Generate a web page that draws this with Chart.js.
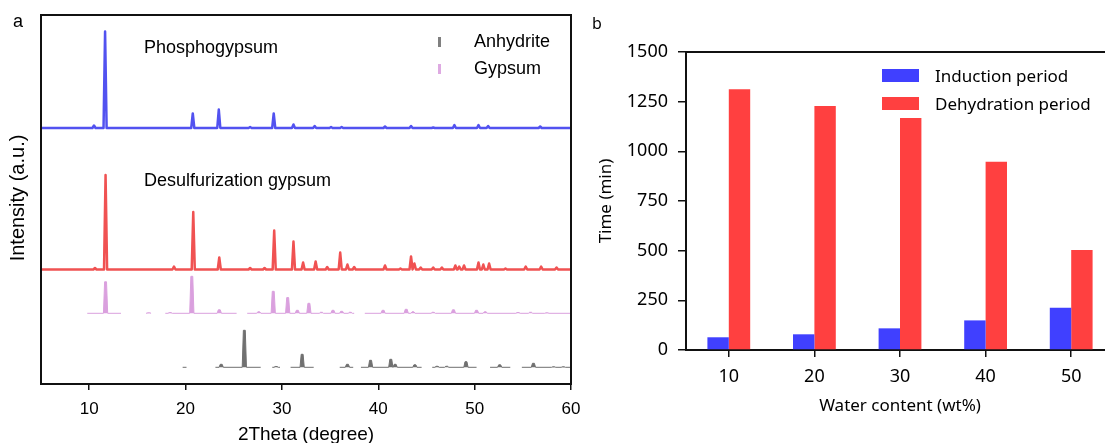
<!DOCTYPE html>
<html>
<head>
<meta charset="utf-8">
<script src="https://cdn.jsdelivr.net/npm/chart.js@4.4.0/dist/chart.umd.min.js"></script>
<style>
  html, body { margin: 0; padding: 0; background: #fff; overflow: hidden; width: 1105px; height: 443px; }
  #xrd { position: absolute; left: 0; top: 0; }
  #bars { position: absolute; left: 580px; top: 0; }
</style>
</head>
<body>
<canvas id="xrd" width="580" height="443"></canvas>
<canvas id="bars" width="540" height="443"></canvas>
<script>
// ---------- (a) XRD patterns: peak positions (2θ, degree) and intensities (a.u.) ----------
const xTicksA = [10, 20, 30, 40, 50, 60];

const phosphoPos = [10.5, 11.65, 20.75, 23.45, 26.7, 29.15, 31.2, 33.4, 35.1, 36.2, 40.7, 43.4, 45.7, 47.9, 50.4, 51.4, 56.8];
const phosphoInt = [2.5, 96.5, 14.5, 18.5, 1, 14.5, 3.5, 2, 1, 1, 1.5, 2, 0.5, 3, 3, 2, 1.5];

const desulfPos = [10.6, 11.7, 18.8, 20.8, 23.5, 26.7, 28.2, 29.2, 31.2, 32.2, 33.5, 34.7, 36.05, 36.8, 37.5, 40.7, 42.3, 43.4, 43.75, 44.4, 45.7, 46.6, 48.0, 48.4, 48.9, 50.4, 50.9, 51.5, 53.2, 55.3, 56.9, 58.5];
const desulfInt = [1.5, 94.5, 3, 57.5, 12, 1.5, 1.5, 39, 28, 7, 8, 2.5, 17, 5, 2.5, 4, 1, 13, 6, 2, 2, 2, 4, 3, 4, 7, 5, 6, 1, 3, 3, 2];

// reference cards: reflections and the 2θ ranges they cover
const gypsumPos = [11.7, 16.2, 18.4, 20.65, 23.5, 27.6, 29.1, 30.6, 31.6, 32.8, 34.1, 35.3, 36.2, 37.1, 40.5, 42.9, 43.6, 45.7, 47.8, 50.2, 51.1, 54.5, 55.8, 57.5];
const gypsumInt = [31.5, 0.5, 0.7, 37, 3.5, 1.5, 22, 15.7, 3, 10, 1, 3, 2, 1, 3, 4, 1.5, 1, 3.5, 3, 1.5, 0.8, 1, 0.5];
const gypsumRanges = [[9.8, 13.3], [15.9, 16.5], [17.9, 25.3], [26.4, 37.5], [38.6, 59.9]];

const anhydritePos = [23.7, 26.1, 29.4, 32.1, 36.8, 39.2, 41.3, 41.75, 43.8, 46.1, 47.1, 49.1, 52.6, 56.1, 58.2, 59.2];
const anhydriteInt = [3, 37, 0.8, 13, 3, 7, 8, 3, 2.5, 1, 1, 5.6, 2.5, 4, 0.5, 0.5];
const anhydriteRanges = [[19.7, 20.1], [23.1, 27.8], [29.0, 29.8], [30.9, 33.3], [36.0, 37.4], [38.2, 44.5], [45.6, 50.2], [51.6, 53.7], [54.9, 59.9]];

// ---------- (b) induction / dehydration time vs water content ----------
const waterContent = ['10', '20', '30', '40', '50'];
const inductionTime = [64, 79, 109, 149, 213];
const dehydrationTime = [1312, 1228, 1168, 948, 503];
const yTicksB = [0, 250, 500, 750, 1000, 1250, 1500];

// ---------- helpers ----------
// measured pattern: baseline with a narrow profile at each reflection
function measuredTrace(pos, inten, base) {
  const hw = 0.16;
  const pts = [{ x: 5, y: base }];
  pos.forEach((p, i) => {
    pts.push({ x: p - hw, y: base }, { x: p, y: base + inten[i] }, { x: p + hw, y: base });
  });
  pts.push({ x: 60, y: base });
  return pts;
}
// reference card: flat-topped sticks on broken baseline segments
function referenceTrace(pos, inten, ranges, base) {
  const pts = [];
  ranges.forEach(([s, e]) => {
    pts.push({ x: s, y: base });
    pos.forEach((p, i) => {
      if (p > s && p < e) {
        pts.push({ x: p - 0.22, y: base }, { x: p - 0.1, y: base + inten[i] },
                 { x: p + 0.1, y: base + inten[i] }, { x: p + 0.22, y: base });
      }
    });
    pts.push({ x: e, y: base });
    pts.push({ x: e + 0.01, y: null });
  });
  return pts;
}

const SANS = 'Liberation Sans, Arial, sans-serif';
const NOTO = 'Noto Sans, Open Sans, sans-serif';

function txt(ctx, s, x, y, font, align, rot) {
  ctx.save();
  ctx.font = font;
  ctx.fillStyle = '#000';
  ctx.textAlign = align || 'left';
  ctx.textBaseline = 'alphabetic';
  ctx.translate(x, y);
  if (rot) ctx.rotate(rot);
  ctx.fillText(s, 0, 0);
  ctx.restore();
}

// the axis labels sit inside the fixed frame, so no extra side padding for them
function noSidePad(s) { s.paddingLeft = 0; s.paddingRight = 0; }

// vertical stacking of the four patterns
const baseLine = { phospho: 256, desulf: 114.5, gypsum: 70.7, anhydrite: 16.7 };

const colBlue = 'rgb(82, 82, 240)';
const colRed = 'rgb(240, 82, 82)';
const colPink = 'rgb(218, 160, 222)';
const colGray = 'rgb(112, 112, 112)';

const xrdDecor = {
  id: 'xrdDecor',
  afterDraw(chart) {
    const ctx = chart.ctx, a = chart.chartArea;
    ctx.save();
    ctx.strokeStyle = '#111';
    ctx.lineWidth = 2;
    ctx.strokeRect(a.left, a.top, a.right - a.left, a.bottom - a.top);
    ctx.restore();
    txt(ctx, 'a', 13, 27, '18px ' + SANS);
    txt(ctx, 'Intensity (a.u.)', 24, 198, '20px ' + SANS, 'center', -Math.PI / 2);
    txt(ctx, '2Theta (degree)', (a.left + a.right) / 2, 440, '19px ' + SANS, 'center');
    txt(ctx, chart.data.datasets[0].label, 144, 53, '18px ' + SANS);
    txt(ctx, chart.data.datasets[1].label, 144, 186, '18px ' + SANS);
    // legend for the reference cards
    const items = [chart.data.datasets[3], chart.data.datasets[2]];
    items.forEach((d, i) => {
      const cy = 42 + i * 27;
      ctx.fillStyle = d.legendColor;
      ctx.fillRect(438, cy - 5, 3, 10);
      txt(ctx, d.label, 474, cy + 5, '18px ' + SANS);
    });
  }
};

new Chart(document.getElementById('xrd'), {
  type: 'line',
  data: {
    datasets: [
      { label: 'Phosphogypsum', data: measuredTrace(phosphoPos, phosphoInt, baseLine.phospho),
        borderColor: colBlue, borderWidth: 2.5, pointRadius: 0, tension: 0, borderJoinStyle: 'round' },
      { label: 'Desulfurization gypsum', data: measuredTrace(desulfPos, desulfInt, baseLine.desulf),
        borderColor: colRed, borderWidth: 2.5, pointRadius: 0, tension: 0, borderJoinStyle: 'round' },
      { label: 'Gypsum', data: referenceTrace(gypsumPos, gypsumInt, gypsumRanges, baseLine.gypsum),
        borderColor: colPink, backgroundColor: colPink, legendColor: 'rgb(222, 170, 226)',
        borderWidth: 1, pointRadius: 0, tension: 0, spanGaps: false, fill: { value: baseLine.gypsum } },
      { label: 'Anhydrite', data: referenceTrace(anhydritePos, anhydriteInt, anhydriteRanges, baseLine.anhydrite),
        borderColor: colGray, backgroundColor: colGray, legendColor: 'rgb(128, 128, 128)',
        borderWidth: 1, pointRadius: 0, tension: 0, spanGaps: false, fill: { value: baseLine.anhydrite } }
    ]
  },
  options: {
    responsive: false,
    animation: false,
    events: [],
    layout: { padding: { left: 41, right: 9, top: 15, bottom: 0 } },
    plugins: { legend: { display: false }, tooltip: { enabled: false } },
    scales: {
      x: {
        type: 'linear', min: 5, max: 60,
        afterBuildTicks: s => { s.ticks = xTicksA.map(v => ({ value: v })); },
        afterFit: s => { s.height = 59; noSidePad(s); },
        grid: { display: true, drawOnChartArea: false, drawTicks: true, tickLength: 6, color: '#111', lineWidth: 1.5 },
        border: { display: true, color: '#111', width: 2 },
        ticks: { font: { family: SANS, size: 17 }, color: '#000', padding: 9, maxRotation: 0, autoSkip: false }
      },
      y: { type: 'linear', min: 0, max: 369, display: false }
    }
  },
  plugins: [xrdDecor]
});

// ---------- (b) ----------
const barDecor = {
  id: 'barDecor',
  afterDraw(chart) {
    const ctx = chart.ctx, a = chart.chartArea;
    ctx.save();
    ctx.strokeStyle = '#111';
    ctx.lineWidth = 2;
    ctx.beginPath();
    ctx.moveTo(a.left - 1, a.top);
    ctx.lineTo(a.right, a.top);
    ctx.stroke();
    ctx.restore();
    txt(ctx, 'b', 12, 29, '16px ' + NOTO);
    txt(ctx, 'Time (min)', 31, 201, '17px ' + NOTO, 'center', -Math.PI / 2);
    txt(ctx, 'Water content (wt%)', (a.left + a.right) / 2, 411, '17px ' + NOTO, 'center');
    chart.data.datasets.forEach((d, i) => {
      const y = 69 + i * 28;
      ctx.fillStyle = d.backgroundColor;
      ctx.fillRect(302, y, 37, 13);
      txt(ctx, d.label, 355, y + 13, '17px ' + NOTO);
    });
  }
};

new Chart(document.getElementById('bars'), {
  type: 'bar',
  data: {
    labels: waterContent,
    datasets: [
      { label: 'Induction period', data: inductionTime, backgroundColor: 'rgb(64, 64, 255)',
        barPercentage: 1, categoryPercentage: 0.5 },
      { label: 'Dehydration period', data: dehydrationTime, backgroundColor: 'rgb(255, 64, 64)',
        barPercentage: 1, categoryPercentage: 0.5 }
    ]
  },
  options: {
    responsive: false,
    animation: false,
    events: [],
    layout: { padding: { left: 0, right: 6, top: 52, bottom: 0 } },
    plugins: { legend: { display: false }, tooltip: { enabled: false } },
    scales: {
      x: {
        type: 'category', offset: true,
        afterFit: s => { s.height = 93; noSidePad(s); },
        grid: { display: true, offset: false, drawOnChartArea: false, tickLength: 7, color: '#111', lineWidth: 1.5 },
        border: { display: true, color: '#111', width: 2 },
        ticks: { font: { family: NOTO, size: 18 }, color: '#000', padding: 9, maxRotation: 0 }
      },
      y: {
        min: 0, max: 1500,
        afterBuildTicks: s => { s.ticks = yTicksB.map(v => ({ value: v })); },
        afterFit: s => { s.width = 106; },
        grid: { display: true, drawOnChartArea: false, tickLength: 8, color: '#111', lineWidth: 1.5 },
        border: { display: true, color: '#111', width: 2 },
        ticks: { font: { family: NOTO, size: 18 }, color: '#000', padding: 10, callback: v => String(v) }
      }
    }
  },
  plugins: [barDecor]
});
</script>
</body>
</html>
